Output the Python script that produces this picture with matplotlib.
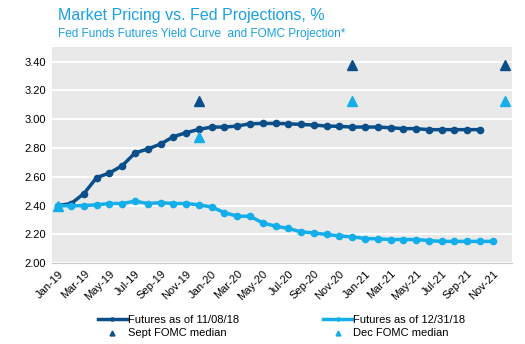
import numpy as np
import matplotlib
matplotlib.use("Agg")
import matplotlib.pyplot as plt

plt.rcParams['font.family'] = ['Liberation Sans', 'DejaVu Sans']

# monthly categories Jan-19 .. Dec-21
months = ["Jan", "Feb", "Mar", "Apr", "May", "Jun", "Jul", "Aug", "Sep", "Oct", "Nov", "Dec"]
categories = [m + "-" + y for y in ["19", "20", "21"] for m in months]

futures_nov = [2.40, 2.414, 2.483, 2.594, 2.626, 2.677, 2.765, 2.793, 2.827, 2.878, 2.906, 2.929,
               2.945, 2.945, 2.952, 2.968, 2.970, 2.970, 2.968, 2.963, 2.959, 2.952, 2.950, 2.945,
               2.945, 2.945, 2.940, 2.934, 2.934, 2.927, 2.927, 2.927, 2.927, 2.927]
futures_dec = [2.40, 2.398, 2.40, 2.405, 2.414, 2.414, 2.43, 2.414, 2.42, 2.414, 2.414, 2.405,
               2.39, 2.351, 2.326, 2.326, 2.279, 2.257, 2.241, 2.217, 2.210, 2.199, 2.189, 2.183,
               2.171, 2.169, 2.164, 2.164, 2.164, 2.157, 2.151, 2.151, 2.151, 2.151, 2.151]

sept_fomc_months = ["Dec-19", "Dec-20", "Dec-21"]
sept_fomc = [3.125, 3.375, 3.375]
dec_fomc_months = ["Jan-19", "Dec-19", "Dec-20", "Dec-21"]
dec_fomc = [2.40, 2.875, 3.125, 3.125]

dark = "#0b4f8a"
light = "#14aeea"

fig = plt.figure(figsize=(5.25, 3.44), dpi=100)
ax = fig.add_axes([0.099, 0.235, 0.876, 0.628])
ax.set_facecolor("#e9e9e9")

x_all = np.arange(len(categories))
l1, = ax.plot(x_all[:len(futures_nov)], futures_nov, color=dark, lw=2.5, marker="o", ms=4.5,
              label="Futures as of 11/08/18", zorder=3)
l2, = ax.plot(x_all[:len(futures_dec)], futures_dec, color=light, lw=2.5, marker="o", ms=4.5,
              label="Futures as of 12/31/18", zorder=3)
l3, = ax.plot([categories.index(m) for m in sept_fomc_months], sept_fomc, ls="none", marker="^",
              ms=7, color=dark, label="Sept FOMC median", zorder=4)
l4, = ax.plot([categories.index(m) for m in dec_fomc_months], dec_fomc, ls="none", marker="^",
              ms=7, color=light, label="Dec FOMC median", zorder=4)

ax.set_xlim(-0.5, len(categories) - 0.5)
ax.set_ylim(2.0, 3.5)
ax.set_yticks(np.arange(2.0, 3.41, 0.2))
ax.set_yticklabels(["%.2f" % v for v in np.arange(2.0, 3.41, 0.2)], fontsize=8)
ax.set_xticks(x_all[::2])
ax.set_xticklabels(categories[::2], rotation=45, ha="right", rotation_mode="anchor", fontsize=8)
ax.tick_params(length=0, pad=4)
ax.grid(axis="y", color="white", lw=1.5)
ax.set_axisbelow(True)
for s in ["top", "right", "left"]:
    ax.spines[s].set_visible(False)
ax.spines["bottom"].set_color("#c8c8c8")

fig.text(0.11, 0.955, "Market Pricing vs. Fed Projections, %", color="#1ba1e2", fontsize=11.5,
         va="center")
fig.text(0.11, 0.9, "Fed Funds Futures Yield Curve  and FOMC Projection*", color="#1ba1e2",
         fontsize=8.5, va="center")

# legend rows: futures on top, FOMC medians below
fig.legend([l1, l3, l2, l4], [l.get_label() for l in [l1, l3, l2, l4]],
           loc="center left", bbox_to_anchor=(0.167, 0.05), ncol=2, frameon=False, fontsize=8,
           handlelength=2.6, handletextpad=0.1, columnspacing=7.6, labelspacing=0.3,
           markerscale=0.5)

fig.savefig("out.png", dpi=100)
